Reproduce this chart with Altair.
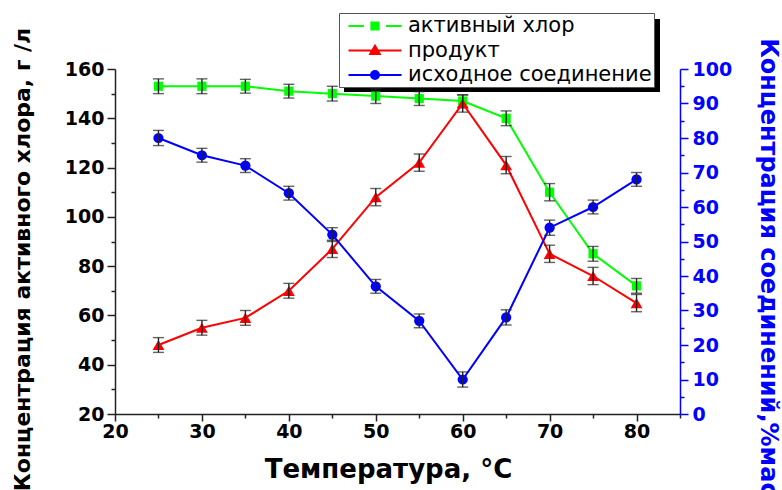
import altair as alt
import pandas as pd

temps = [25, 30, 35, 40, 45, 50, 55, 60, 65, 70, 75, 80]
chlorine = [153, 153, 153, 151, 150, 149, 148, 147, 140, 110, 85, 72]
chlorine_err = [3, 3, 2.8, 2.8, 3, 3, 2.8, 2.5, 3, 3.5, 3, 3]
product = [48, 55, 59, 70, 87, 108, 122, 146, 121, 85, 76, 65]
product_err = [3, 3, 3, 3, 3.5, 3.5, 3.5, 3.5, 3.5, 3.5, 3.5, 3.5]
compound = [80, 75, 72, 64, 52, 37, 27, 10, 28, 54, 60, 68]
compound_err = [2.2, 2, 2, 2, 2, 2, 2, 2.2, 2.2, 2.2, 2, 2]

series_names = ["активный хлор", "продукт", "исходное соединение"]
series_colors = ["#00ff00", "#ff0000", "#0000ff"]
legend_paths = [
    "M-2.65,0H-1.1M1.1,0H2.65M-0.36,-0.36H0.36V0.36H-0.36Z",
    "M-2.65,0H2.65M0,-0.48L0.48,0.36L-0.48,0.36Z",
    "M-2.65,0H2.65M0.4,0A0.4,0.4,0,1,1,-0.4,0A0.4,0.4,0,1,1,0.4,0Z",
]

FONT = "DejaVu Sans"
AX = "#222222"


def frame(vals, errs):
    return pd.DataFrame({
        "temp": temps,
        "value": vals,
        "lo": [v - e for v, e in zip(vals, errs)],
        "hi": [v + e for v, e in zip(vals, errs)],
    })


x_axis = alt.Axis(
    values=list(range(20, 90, 5)),
    labelExpr="datum.value % 10 === 0 ? datum.label : ''",
    tickSize={"condition": {"test": "datum.value % 10 === 0", "value": 7}, "value": 4},
    title="Температура, °C",
    titleFont=FONT, titleFontSize=26, titleFontWeight="bold", titleColor="black",
    titleX=273, titleY=63, titleBaseline="alphabetic", titleAnchor="middle",
    labelFont=FONT, labelFontSize=19, labelFontWeight="bold", labelColor="black",
    labelPadding=1, domainColor=AX, tickColor=AX, domainWidth=1.5, tickWidth=1.5,
    grid=False, labelFlush=False, labelOverlap=False,
)
x_scale = alt.Scale(domain=[20, 85], nice=False, zero=False)

left_axis = alt.Axis(
    orient="left",
    values=list(range(20, 170, 10)),
    labelExpr="datum.value % 20 === 0 ? datum.label : ''",
    tickSize={"condition": {"test": "datum.value % 20 === 0", "value": 8}, "value": 4},
    title="Концентрация активного хлора, г /л",
    titleFont=FONT, titleFontSize=22, titleFontWeight="bold", titleColor="black",
    titleX=-93, titleY=190, titleBaseline="middle", titleAngle=-90,
    labelFont=FONT, labelFontSize=19, labelFontWeight="bold", labelColor="black",
    labelPadding=3, domainColor=AX, tickColor=AX, domainWidth=1.5, tickWidth=1.5,
    grid=False, labelFlush=False, labelOverlap=False,
)
left_scale = alt.Scale(domain=[20, 160], nice=False, zero=False)

right_axis = alt.Axis(
    orient="right",
    values=list(range(0, 105, 5)),
    labelExpr="datum.value % 10 === 0 ? datum.label : ''",
    tickSize={"condition": {"test": "datum.value % 10 === 0", "value": 8}, "value": 4},
    title="Концентрация соединений,%масс",
    titleFont=FONT, titleFontSize=24, titleFontWeight="bold", titleColor="#0000ff",
    titleX=87, titleY=205, titleBaseline="middle", titleAngle=90,
    labelFont=FONT, labelFontSize=19, labelFontWeight="bold", labelColor="#0000ff",
    labelPadding=4, domainColor="#0000ff", tickColor="#0000ff", domainWidth=1.5, tickWidth=1.5,
    grid=False, labelFlush=False, labelOverlap=False,
)
right_scale = alt.Scale(domain=[0, 100], nice=False, zero=False)


def series_layers(vals, errs, color, shape, size, yscale, yaxis):
    base = alt.Chart(frame(vals, errs))
    x = alt.X("temp:Q", scale=x_scale, axis=x_axis)
    line = base.mark_line(color=color, strokeWidth=2).encode(
        x=x, y=alt.Y("value:Q", scale=yscale, axis=yaxis))
    pts = base.mark_point(shape=shape, size=size, filled=True, color=color, opacity=1).encode(
        x=x, y=alt.Y("value:Q", scale=yscale, axis=yaxis))
    err = base.mark_errorbar(ticks=True, size=11, thickness=1.4, color=AX).encode(
        x=x, y=alt.Y("lo:Q", scale=yscale, axis=yaxis), y2="hi:Q")
    return [line, pts, err]


left = alt.layer(
    *series_layers(chlorine, chlorine_err, series_colors[0], "square", 85, left_scale, left_axis),
    *series_layers(product, product_err, series_colors[1], "triangle-up", 140, left_scale, left_axis),
)
right = alt.layer(
    *series_layers(compound, compound_err, series_colors[2], "circle", 105, right_scale, right_axis),
)

legend = alt.Legend(
    orient="none", legendX=224, legendY=-56, title=None,
    padding=2, symbolOffset=23, labelOffset=22, symbolSize=400, symbolStrokeWidth=2,
    labelFont=FONT, labelFontSize=21, labelFontWeight="normal", labelColor="black",
    strokeColor="#555555", fillColor="white", rowPadding=3.5, labelLimit=0,
)
legend_df = pd.DataFrame({"series": series_names})
dummy = alt.Chart(legend_df).mark_point(filled=True, opacity=1).encode(
    fill=alt.Fill("series:N", scale=alt.Scale(domain=series_names, range=series_colors), legend=legend),
    stroke=alt.Stroke("series:N", scale=alt.Scale(domain=series_names, range=series_colors), legend=legend),
    shape=alt.Shape("series:N", scale=alt.Scale(domain=series_names, range=legend_paths), legend=legend),
).transform_filter("false")

shadow = alt.Chart(pd.DataFrame({"k": [0]})).mark_rect(color="black").encode(
    x=alt.value(229), x2=alt.value(545), y=alt.value(-50), y2=alt.value(23))

chart = alt.layer(shadow, left, right, dummy).resolve_scale(
    y="independent"
).properties(
    width=565, height=345,
    padding={"left": 115, "top": 69, "right": 102, "bottom": 76},
    autosize=alt.AutoSizeParams(type="none"),
    background="white",
).configure_view(strokeWidth=0)

chart.save("out.html", embed_options={"renderer": "svg", "actions": False})
